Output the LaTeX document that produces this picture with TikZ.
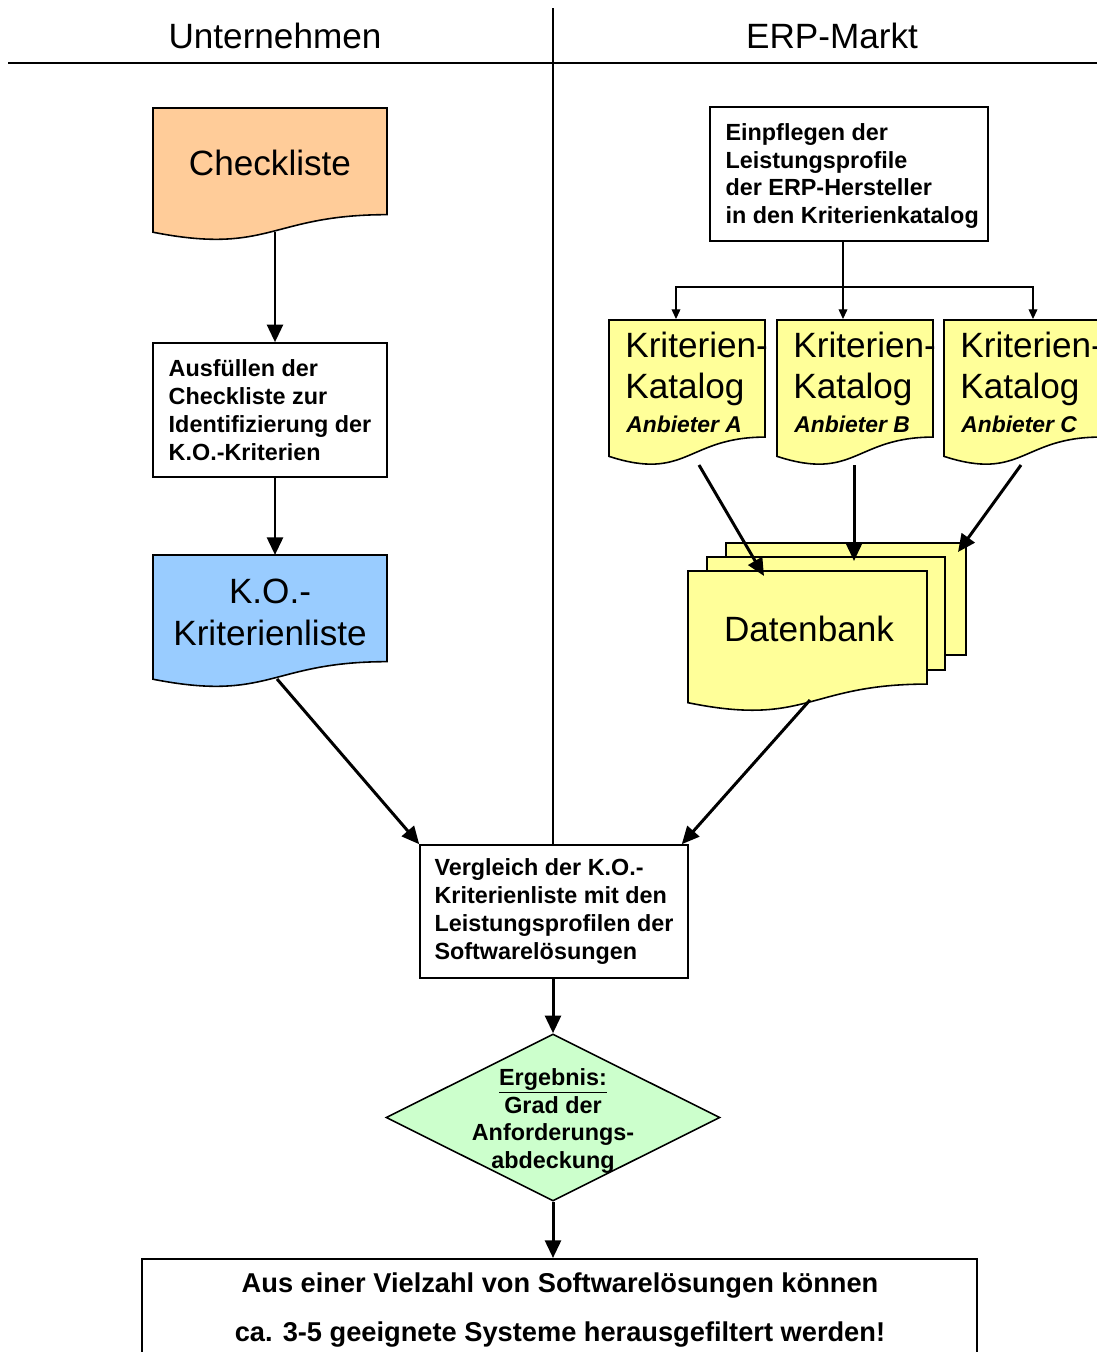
\documentclass[tikz,border=0pt]{standalone}
\usepackage{fontspec}
\setmainfont{Liberation Sans}
\usetikzlibrary{arrows.meta,shapes.geometric,positioning}

\definecolor{peach}{HTML}{FFCC99}
\definecolor{skyblue}{HTML}{99CCFF}
\definecolor{paleyellow}{HTML}{FFFF99}
\definecolor{palegreen}{HTML}{CCFFCC}

% Dokument-Symbol: x, y (oben links), Breite, Hoehe, Farbe
\newcommand{\docshape}[5]{%
  \filldraw[fill=#5, line width=0.9pt] (#1,#2) -- ({#1+#3},#2) -- ({#1+#3},{#2+0.802*#4})
    .. controls ({#1+0.5*#3},{#2+0.802*#4}) and ({#1+0.5*#3},{#2+1.1075*#4}) .. (#1,{#2+0.934*#4}) -- cycle;}

\begin{document}
\begin{tikzpicture}[x=0.02cm, y=-0.02cm,
    box/.style={draw, line width=0.9pt, fill=white, align=left, inner sep=0pt,
      font=\fontsize{13.3}{15.9}\selectfont\bfseries},
    big/.style={align=left, inner sep=0pt, font=\fontsize{20}{23.8}\selectfont},
    anb/.style={inner sep=0pt, font=\fontsize{13}{15}\selectfont\bfseries\itshape},
    arr/.style={line width=1.7pt, -{Triangle[length=10pt,width=9pt]}},
    thin/.style={line width=0.6pt, -{Triangle[length=5.5pt,width=5pt]}}]
    \useasboundingbox (0,0) rectangle (1097,1352);

    % Kopfzeile
    \node[font=\fontsize{20}{24}\selectfont] (unt) at (275,36) {Unternehmen};
    \node[font=\fontsize{20}{24}\selectfont] (erp) at (832,36) {ERP-Markt};
    \draw[line width=0.8pt] (8,63) -- (1097,63);
    \coordinate (divtop) at (553,8);

    % Unternehmen
    \docshape{153}{108}{234}{133}{peach}
    \node[big] (check) at (270,163) {Checkliste};
    \coordinate (checkB) at (275,232);
    \node[box, minimum width=4.68cm, minimum height=2.68cm] (ausf) at (270,410)
      {Ausfüllen der\\Checkliste zur\\Identifizierung der\\K.O.-Kriterien};
    \docshape{153}{555}{234}{133}{skyblue}
    \node[big, align=center] (kolist) at (270,612) {K.O.-\\Kriterienliste};
    \coordinate (koT) at (275,555);
    \coordinate (koB) at (277,679);
    \draw[arr] (checkB) -- (checkB |- ausf.north);
    \draw[arr] (checkB |- ausf.south) -- (koT);

    % ERP-Markt
    \node[box, minimum width=5.56cm, minimum height=2.68cm] (pflege) at (849,174) {};
    \node[align=left, inner sep=0pt, font=\fontsize{13.3}{15.9}\selectfont\bfseries,
      right=0.32cm of pflege.west, yshift=-0.04cm] (pflegetxt)
      {Einpflegen der\\Leistungsprofile\\der ERP-Hersteller\\in den Kriterienkatalog};
    \foreach \x/\n in {609/A,777/B,944/C}{
      \docshape{\x}{320}{156}{146}{paleyellow}
      \node[big, anchor=west] (kat\n) at ({\x+16},369) {Kriterien-\\Katalog};
      \node[anb, anchor=west] (anb\n) at ({\x+17},424) {Anbieter \n};
    }
    \coordinate (split) at (843,287);
    \draw[line width=0.6pt] (pflege.south -| split) -- (split);
    \draw[thin] (split) -| (676,319);
    \draw[thin] (split) -| (1033,319);
    \draw[thin] (split) -- (843,319);

    % Datenbank
    \filldraw[fill=paleyellow, line width=0.9pt] (726,543) rectangle (966,655);
    \filldraw[fill=paleyellow, line width=0.9pt] (707,557) rectangle (945,670);
    \docshape{688}{571}{239}{141}{paleyellow}
    \node[big] (db) at (809,629) {Datenbank};
    \coordinate (botA) at (699,465);
    \coordinate (botB) at (854,465);
    \coordinate (botC) at (1021,465);
    \coordinate (dbA) at (764,576);
    \coordinate (dbB) at (854,561);
    \coordinate (dbC) at (958,552);
    \coordinate (dbBot) at (810,700);
    \draw[arr] (botA) -- (dbA);
    \draw[arr] (botB) -- (dbB);
    \draw[arr] (botC) -- (dbC);

    % Vergleich und Ergebnis
    \node[box, minimum width=5.36cm, minimum height=2.66cm] (vergl) at (554,911.5)
      {Vergleich der K.O.-\\Kriterienliste mit den\\Leistungsprofilen der\\Softwarelösungen};
    \draw[line width=0.8pt] (divtop) -- (divtop |- vergl.north);
    \draw[arr] (koB) -- (vergl.north west);
    \draw[arr] (dbBot) -- ([xshift=-0.14cm]vergl.north east);
    \node[diamond, draw, fill=palegreen, line width=0.9pt, inner sep=0pt, aspect=2,
      minimum width=6.68cm, minimum height=3.34cm] (erg) at (553,1117.5) {};
    \node[align=center, inner sep=0pt, font=\fontsize{13.3}{15.9}\selectfont\bfseries] (ergtxt) at (553,1121)
      {\underline{Ergebnis:}\\Grad der\\Anforderungs-\\abdeckung};
    \draw[arr] (erg.north |- vergl.south) -- (erg.north);

    \node[draw, line width=0.9pt, anchor=north, minimum width=16.7cm, minimum height=3cm] (fazit) at (559.5,1258) {};
    \node[align=center, inner sep=0pt, font=\fontsize{15.5}{28.3}\selectfont\bfseries] (fazittxt) at (560,1310)
      {Aus einer Vielzahl von Softwarelösungen können\\ca. 3-5 geeignete Systeme herausgefiltert werden!};
    \draw[arr] (erg.south) -- (erg.south |- fazit.north);
\end{tikzpicture}
\end{document}
